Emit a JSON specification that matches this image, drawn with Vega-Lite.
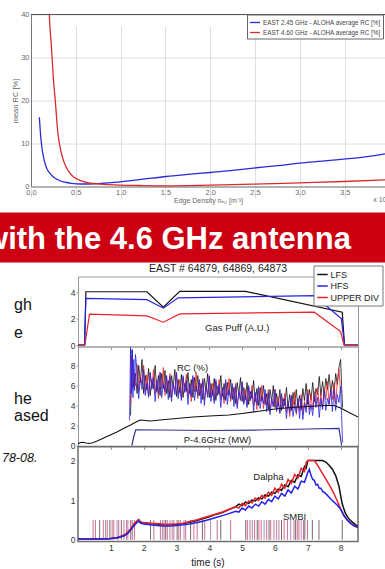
{
  "$schema": "https://vega.github.io/schema/vega-lite/v6.json",
  "background": "white",
  "padding": {"left": 0, "top": 10.5, "right": 0, "bottom": 0},
  "autosize": {"type": "pad"},
  "config": {
    "font": "Liberation Sans",
    "view": {"stroke": null},
    "axis": {"labelFont": "Liberation Sans", "titleFont": "Liberation Sans", "titleFontWeight": "normal", "grid": false},
    "legend": {"labelFont": "Liberation Sans"},
    "title": {"font": "Liberation Sans", "fontWeight": "normal"},
    "text": {"font": "Liberation Sans"}
  },
  "datasets": {
    "top": [
      {"n":0.093,"rc":16.1,"s":"EAST 2.45 GHz - ALOHA average RC [%]"},{"n":0.105,"rc":12.5,"s":"EAST 2.45 GHz - ALOHA average RC [%]"},{"n":0.12,"rc":9.3,"s":"EAST 2.45 GHz - ALOHA average RC [%]"},{"n":0.14,"rc":6.8,"s":"EAST 2.45 GHz - ALOHA average RC [%]"},{"n":0.156,"rc":5.4,"s":"EAST 2.45 GHz - ALOHA average RC [%]"},{"n":0.18,"rc":4.0,"s":"EAST 2.45 GHz - ALOHA average RC [%]"},{"n":0.21,"rc":3.1,"s":"EAST 2.45 GHz - ALOHA average RC [%]"},{"n":0.25,"rc":2.2,"s":"EAST 2.45 GHz - ALOHA average RC [%]"},{"n":0.3,"rc":1.56,"s":"EAST 2.45 GHz - ALOHA average RC [%]"},{"n":0.35,"rc":1.15,"s":"EAST 2.45 GHz - ALOHA average RC [%]"},{"n":0.4,"rc":0.93,"s":"EAST 2.45 GHz - ALOHA average RC [%]"},{"n":0.45,"rc":0.75,"s":"EAST 2.45 GHz - ALOHA average RC [%]"},{"n":0.51,"rc":0.63,"s":"EAST 2.45 GHz - ALOHA average RC [%]"},{"n":0.6,"rc":0.58,"s":"EAST 2.45 GHz - ALOHA average RC [%]"},{"n":0.7,"rc":0.63,"s":"EAST 2.45 GHz - ALOHA average RC [%]"},{"n":0.8,"rc":0.75,"s":"EAST 2.45 GHz - ALOHA average RC [%]"},{"n":0.9,"rc":0.9,"s":"EAST 2.45 GHz - ALOHA average RC [%]"},{"n":0.99,"rc":1.09,"s":"EAST 2.45 GHz - ALOHA average RC [%]"},{"n":1.25,"rc":1.7,"s":"EAST 2.45 GHz - ALOHA average RC [%]"},{"n":1.51,"rc":2.33,"s":"EAST 2.45 GHz - ALOHA average RC [%]"},{"n":1.75,"rc":2.8,"s":"EAST 2.45 GHz - ALOHA average RC [%]"},{"n":2.0,"rc":3.26,"s":"EAST 2.45 GHz - ALOHA average RC [%]"},{"n":2.25,"rc":3.75,"s":"EAST 2.45 GHz - ALOHA average RC [%]"},{"n":2.48,"rc":4.28,"s":"EAST 2.45 GHz - ALOHA average RC [%]"},{"n":2.75,"rc":4.85,"s":"EAST 2.45 GHz - ALOHA average RC [%]"},{"n":3.0,"rc":5.44,"s":"EAST 2.45 GHz - ALOHA average RC [%]"},{"n":3.25,"rc":5.9,"s":"EAST 2.45 GHz - ALOHA average RC [%]"},{"n":3.49,"rc":6.37,"s":"EAST 2.45 GHz - ALOHA average RC [%]"},{"n":3.75,"rc":6.95,"s":"EAST 2.45 GHz - ALOHA average RC [%]"},{"n":3.95,"rc":7.6,"s":"EAST 2.45 GHz - ALOHA average RC [%]"},
      {"n":0.19,"rc":48,"s":"EAST 4.60 GHz - ALOHA average RC [%]"},{"n":0.204,"rc":40,"s":"EAST 4.60 GHz - ALOHA average RC [%]"},{"n":0.23,"rc":31.8,"s":"EAST 4.60 GHz - ALOHA average RC [%]"},{"n":0.25,"rc":25,"s":"EAST 4.60 GHz - ALOHA average RC [%]"},{"n":0.27,"rc":20.2,"s":"EAST 4.60 GHz - ALOHA average RC [%]"},{"n":0.3,"rc":12.4,"s":"EAST 4.60 GHz - ALOHA average RC [%]"},{"n":0.33,"rc":8.6,"s":"EAST 4.60 GHz - ALOHA average RC [%]"},{"n":0.36,"rc":6.2,"s":"EAST 4.60 GHz - ALOHA average RC [%]"},{"n":0.39,"rc":4.6,"s":"EAST 4.60 GHz - ALOHA average RC [%]"},{"n":0.42,"rc":3.5,"s":"EAST 4.60 GHz - ALOHA average RC [%]"},{"n":0.46,"rc":2.5,"s":"EAST 4.60 GHz - ALOHA average RC [%]"},{"n":0.51,"rc":1.8,"s":"EAST 4.60 GHz - ALOHA average RC [%]"},{"n":0.56,"rc":1.3,"s":"EAST 4.60 GHz - ALOHA average RC [%]"},{"n":0.62,"rc":0.93,"s":"EAST 4.60 GHz - ALOHA average RC [%]"},{"n":0.7,"rc":0.7,"s":"EAST 4.60 GHz - ALOHA average RC [%]"},{"n":0.77,"rc":0.55,"s":"EAST 4.60 GHz - ALOHA average RC [%]"},{"n":0.88,"rc":0.42,"s":"EAST 4.60 GHz - ALOHA average RC [%]"},{"n":0.99,"rc":0.33,"s":"EAST 4.60 GHz - ALOHA average RC [%]"},{"n":1.25,"rc":0.22,"s":"EAST 4.60 GHz - ALOHA average RC [%]"},{"n":1.51,"rc":0.16,"s":"EAST 4.60 GHz - ALOHA average RC [%]"},{"n":1.75,"rc":0.22,"s":"EAST 4.60 GHz - ALOHA average RC [%]"},{"n":2.0,"rc":0.33,"s":"EAST 4.60 GHz - ALOHA average RC [%]"},{"n":2.48,"rc":0.55,"s":"EAST 4.60 GHz - ALOHA average RC [%]"},{"n":3.0,"rc":0.86,"s":"EAST 4.60 GHz - ALOHA average RC [%]"},{"n":3.49,"rc":1.16,"s":"EAST 4.60 GHz - ALOHA average RC [%]"},{"n":3.95,"rc":1.56,"s":"EAST 4.60 GHz - ALOHA average RC [%]"}
    ],
    "gas": [
      {"t":0,"v":0,"s":"LFS"},{"t":0.2,"v":0,"s":"LFS"},{"t":0.24,"v":4.02,"s":"LFS"},{"t":2.1,"v":4.02,"s":"LFS"},{"t":2.6,"v":2.85,"s":"LFS"},{"t":3.1,"v":4.05,"s":"LFS"},{"t":5.1,"v":4.05,"s":"LFS"},{"t":8.05,"v":2.48,"s":"LFS"},{"t":8.12,"v":0,"s":"LFS"},{"t":8.53,"v":0,"s":"LFS"},
      {"t":0,"v":0,"s":"HFS"},{"t":0.2,"v":0,"s":"HFS"},{"t":0.24,"v":3.52,"s":"HFS"},{"t":2.1,"v":3.42,"s":"HFS"},{"t":2.6,"v":2.78,"s":"HFS"},{"t":3.05,"v":3.56,"s":"HFS"},{"t":7.2,"v":3.72,"s":"HFS"},{"t":8.02,"v":2.0,"s":"HFS"},{"t":8.12,"v":0,"s":"HFS"},{"t":8.53,"v":0,"s":"HFS"},
      {"t":0,"v":0,"s":"UPPER DIV"},{"t":0.21,"v":0,"s":"UPPER DIV"},{"t":0.35,"v":2.33,"s":"UPPER DIV"},{"t":2.1,"v":2.2,"s":"UPPER DIV"},{"t":2.6,"v":1.72,"s":"UPPER DIV"},{"t":3.1,"v":2.35,"s":"UPPER DIV"},{"t":7.2,"v":2.48,"s":"UPPER DIV"},{"t":8.0,"v":1.02,"s":"UPPER DIV"},{"t":8.1,"v":0,"s":"UPPER DIV"},{"t":8.53,"v":0,"s":"UPPER DIV"}
    ],
    "rc": [
      {"t":1.6,"v":3.0,"s":"LFS"},{"t":1.65,"v":9.6,"s":"LFS"},{"t":1.7,"v":5.8,"s":"LFS"},{"t":1.75,"v":7.2,"s":"LFS"},{"t":1.8,"v":5.2,"s":"LFS"},{"t":1.85,"v":8.0,"s":"LFS"},{"t":1.9,"v":6.3,"s":"LFS"},{"t":1.95,"v":8.6,"s":"LFS"},{"t":2.0,"v":5.2,"s":"LFS"},{"t":2.05,"v":7.0,"s":"LFS"},{"t":2.1,"v":5.6,"s":"LFS"},{"t":2.15,"v":7.7,"s":"LFS"},{"t":2.2,"v":5.0,"s":"LFS"},{"t":2.25,"v":6.6,"s":"LFS"},{"t":2.3,"v":5.7,"s":"LFS"},{"t":2.35,"v":8.0,"s":"LFS"},{"t":2.4,"v":5.4,"s":"LFS"},{"t":2.45,"v":7.0,"s":"LFS"},{"t":2.5,"v":5.0,"s":"LFS"},{"t":2.55,"v":7.2,"s":"LFS"},{"t":2.6,"v":5.7,"s":"LFS"},{"t":2.65,"v":7.5,"s":"LFS"},{"t":2.7,"v":5.2,"s":"LFS"},{"t":2.75,"v":6.5,"s":"LFS"},{"t":2.8,"v":4.8,"s":"LFS"},{"t":2.85,"v":7.0,"s":"LFS"},{"t":2.9,"v":5.8,"s":"LFS"},{"t":2.95,"v":7.6,"s":"LFS"},{"t":3.0,"v":4.9,"s":"LFS"},{"t":3.05,"v":6.6,"s":"LFS"},{"t":3.1,"v":5.3,"s":"LFS"},{"t":3.15,"v":7.1,"s":"LFS"},{"t":3.2,"v":4.8,"s":"LFS"},{"t":3.25,"v":6.2,"s":"LFS"},{"t":3.3,"v":5.4,"s":"LFS"},{"t":3.35,"v":7.3,"s":"LFS"},{"t":3.4,"v":5.2,"s":"LFS"},{"t":3.45,"v":6.6,"s":"LFS"},{"t":3.5,"v":4.8,"s":"LFS"},{"t":3.55,"v":6.8,"s":"LFS"},{"t":3.6,"v":5.4,"s":"LFS"},{"t":3.65,"v":7.0,"s":"LFS"},{"t":3.7,"v":5.0,"s":"LFS"},{"t":3.75,"v":6.2,"s":"LFS"},{"t":3.8,"v":4.6,"s":"LFS"},{"t":3.85,"v":6.7,"s":"LFS"},{"t":3.9,"v":5.5,"s":"LFS"},{"t":3.95,"v":7.2,"s":"LFS"},{"t":4.0,"v":4.8,"s":"LFS"},{"t":4.05,"v":6.2,"s":"LFS"},{"t":4.1,"v":5.0,"s":"LFS"},{"t":4.15,"v":6.7,"s":"LFS"},{"t":4.2,"v":4.5,"s":"LFS"},{"t":4.25,"v":5.9,"s":"LFS"},{"t":4.3,"v":5.1,"s":"LFS"},{"t":4.35,"v":7.0,"s":"LFS"},{"t":4.4,"v":4.9,"s":"LFS"},{"t":4.45,"v":6.2,"s":"LFS"},{"t":4.5,"v":4.5,"s":"LFS"},{"t":4.55,"v":6.3,"s":"LFS"},{"t":4.6,"v":5.1,"s":"LFS"},{"t":4.65,"v":6.6,"s":"LFS"},{"t":4.7,"v":4.6,"s":"LFS"},{"t":4.75,"v":5.8,"s":"LFS"},{"t":4.8,"v":4.2,"s":"LFS"},{"t":4.85,"v":6.3,"s":"LFS"},{"t":4.9,"v":5.1,"s":"LFS"},{"t":4.95,"v":6.8,"s":"LFS"},{"t":5.0,"v":4.4,"s":"LFS"},{"t":5.05,"v":5.8,"s":"LFS"},{"t":5.1,"v":4.6,"s":"LFS"},{"t":5.15,"v":6.3,"s":"LFS"},{"t":5.2,"v":4.1,"s":"LFS"},{"t":5.25,"v":5.4,"s":"LFS"},{"t":5.3,"v":4.7,"s":"LFS"},{"t":5.35,"v":6.5,"s":"LFS"},{"t":5.4,"v":4.4,"s":"LFS"},{"t":5.45,"v":5.7,"s":"LFS"},{"t":5.5,"v":4.0,"s":"LFS"},{"t":5.55,"v":5.8,"s":"LFS"},{"t":5.6,"v":4.5,"s":"LFS"},{"t":5.65,"v":6.0,"s":"LFS"},{"t":5.7,"v":4.1,"s":"LFS"},{"t":5.75,"v":5.2,"s":"LFS"},{"t":5.8,"v":3.6,"s":"LFS"},{"t":5.85,"v":5.6,"s":"LFS"},{"t":5.9,"v":4.4,"s":"LFS"},{"t":5.95,"v":6.0,"s":"LFS"},{"t":6.0,"v":3.8,"s":"LFS"},{"t":6.05,"v":5.2,"s":"LFS"},{"t":6.1,"v":4.0,"s":"LFS"},{"t":6.15,"v":5.6,"s":"LFS"},{"t":6.2,"v":3.5,"s":"LFS"},{"t":6.25,"v":4.7,"s":"LFS"},{"t":6.3,"v":4.0,"s":"LFS"},{"t":6.35,"v":5.8,"s":"LFS"},{"t":6.4,"v":3.8,"s":"LFS"},{"t":6.45,"v":5.1,"s":"LFS"},{"t":6.5,"v":3.5,"s":"LFS"},{"t":6.55,"v":5.3,"s":"LFS"},{"t":6.6,"v":4.1,"s":"LFS"},{"t":6.65,"v":5.6,"s":"LFS"},{"t":6.7,"v":3.8,"s":"LFS"},{"t":6.75,"v":5.0,"s":"LFS"},{"t":6.8,"v":3.6,"s":"LFS"},{"t":6.85,"v":5.7,"s":"LFS"},{"t":6.9,"v":4.5,"s":"LFS"},{"t":6.95,"v":6.2,"s":"LFS"},{"t":7.0,"v":4.1,"s":"LFS"},{"t":7.05,"v":5.6,"s":"LFS"},{"t":7.1,"v":4.6,"s":"LFS"},{"t":7.15,"v":6.3,"s":"LFS"},{"t":7.2,"v":4.4,"s":"LFS"},{"t":7.25,"v":5.7,"s":"LFS"},{"t":7.3,"v":5.1,"s":"LFS"},{"t":7.35,"v":6.9,"s":"LFS"},{"t":7.4,"v":5.0,"s":"LFS"},{"t":7.45,"v":6.4,"s":"LFS"},{"t":7.5,"v":5.0,"s":"LFS"},{"t":7.55,"v":6.7,"s":"LFS"},{"t":7.6,"v":5.6,"s":"LFS"},{"t":7.65,"v":7.1,"s":"LFS"},{"t":7.7,"v":5.3,"s":"LFS"},{"t":7.75,"v":6.5,"s":"LFS"},{"t":7.8,"v":5.2,"s":"LFS"},{"t":7.85,"v":7.2,"s":"LFS"},{"t":7.9,"v":6.1,"s":"LFS"},{"t":7.95,"v":7.8,"s":"LFS"},{"t":8.0,"v":8.6,"s":"LFS"},{"t":8.03,"v":6.0,"s":"LFS"},{"t":8.06,"v":3.8,"s":"LFS"},
      {"t":1.6,"v":4.2,"s":"UPPER DIV"},{"t":1.625,"v":9.0,"s":"UPPER DIV"},{"t":1.65,"v":5.6,"s":"UPPER DIV"},{"t":1.7,"v":7.4,"s":"UPPER DIV"},{"t":1.75,"v":6.0,"s":"UPPER DIV"},{"t":1.8,"v":8.1,"s":"UPPER DIV"},{"t":1.85,"v":5.4,"s":"UPPER DIV"},{"t":1.9,"v":7.0,"s":"UPPER DIV"},{"t":1.95,"v":6.1,"s":"UPPER DIV"},{"t":2.0,"v":8.0,"s":"UPPER DIV"},{"t":2.05,"v":5.4,"s":"UPPER DIV"},{"t":2.1,"v":7.1,"s":"UPPER DIV"},{"t":2.15,"v":5.0,"s":"UPPER DIV"},{"t":2.2,"v":7.3,"s":"UPPER DIV"},{"t":2.25,"v":5.8,"s":"UPPER DIV"},{"t":2.3,"v":7.6,"s":"UPPER DIV"},{"t":2.35,"v":5.2,"s":"UPPER DIV"},{"t":2.4,"v":6.6,"s":"UPPER DIV"},{"t":2.45,"v":4.7,"s":"UPPER DIV"},{"t":2.5,"v":7.3,"s":"UPPER DIV"},{"t":2.55,"v":5.7,"s":"UPPER DIV"},{"t":2.6,"v":7.8,"s":"UPPER DIV"},{"t":2.65,"v":5.0,"s":"UPPER DIV"},{"t":2.7,"v":6.7,"s":"UPPER DIV"},{"t":2.75,"v":5.3,"s":"UPPER DIV"},{"t":2.8,"v":7.2,"s":"UPPER DIV"},{"t":2.85,"v":4.8,"s":"UPPER DIV"},{"t":2.9,"v":6.2,"s":"UPPER DIV"},{"t":2.95,"v":5.4,"s":"UPPER DIV"},{"t":3.0,"v":7.3,"s":"UPPER DIV"},{"t":3.05,"v":5.1,"s":"UPPER DIV"},{"t":3.1,"v":6.6,"s":"UPPER DIV"},{"t":3.15,"v":4.8,"s":"UPPER DIV"},{"t":3.2,"v":6.8,"s":"UPPER DIV"},{"t":3.25,"v":5.4,"s":"UPPER DIV"},{"t":3.3,"v":7.1,"s":"UPPER DIV"},{"t":3.35,"v":4.9,"s":"UPPER DIV"},{"t":3.4,"v":6.2,"s":"UPPER DIV"},{"t":3.45,"v":4.4,"s":"UPPER DIV"},{"t":3.5,"v":6.8,"s":"UPPER DIV"},{"t":3.55,"v":5.4,"s":"UPPER DIV"},{"t":3.6,"v":7.3,"s":"UPPER DIV"},{"t":3.65,"v":4.7,"s":"UPPER DIV"},{"t":3.7,"v":6.3,"s":"UPPER DIV"},{"t":3.75,"v":5.1,"s":"UPPER DIV"},{"t":3.8,"v":6.7,"s":"UPPER DIV"},{"t":3.85,"v":4.5,"s":"UPPER DIV"},{"t":3.9,"v":5.9,"s":"UPPER DIV"},{"t":3.95,"v":5.1,"s":"UPPER DIV"},{"t":4.0,"v":7.0,"s":"UPPER DIV"},{"t":4.05,"v":4.8,"s":"UPPER DIV"},{"t":4.1,"v":6.2,"s":"UPPER DIV"},{"t":4.15,"v":4.5,"s":"UPPER DIV"},{"t":4.2,"v":6.4,"s":"UPPER DIV"},{"t":4.25,"v":5.1,"s":"UPPER DIV"},{"t":4.3,"v":6.6,"s":"UPPER DIV"},{"t":4.35,"v":4.6,"s":"UPPER DIV"},{"t":4.4,"v":5.7,"s":"UPPER DIV"},{"t":4.45,"v":4.2,"s":"UPPER DIV"},{"t":4.5,"v":6.3,"s":"UPPER DIV"},{"t":4.55,"v":5.0,"s":"UPPER DIV"},{"t":4.6,"v":6.7,"s":"UPPER DIV"},{"t":4.65,"v":4.4,"s":"UPPER DIV"},{"t":4.7,"v":5.8,"s":"UPPER DIV"},{"t":4.75,"v":4.7,"s":"UPPER DIV"},{"t":4.8,"v":6.2,"s":"UPPER DIV"},{"t":4.85,"v":4.0,"s":"UPPER DIV"},{"t":4.9,"v":5.3,"s":"UPPER DIV"},{"t":4.95,"v":4.6,"s":"UPPER DIV"},{"t":5.0,"v":6.3,"s":"UPPER DIV"},{"t":5.05,"v":4.3,"s":"UPPER DIV"},{"t":5.1,"v":5.6,"s":"UPPER DIV"},{"t":5.15,"v":4.0,"s":"UPPER DIV"},{"t":5.2,"v":5.8,"s":"UPPER DIV"},{"t":5.25,"v":4.5,"s":"UPPER DIV"},{"t":5.3,"v":6.0,"s":"UPPER DIV"},{"t":5.35,"v":4.0,"s":"UPPER DIV"},{"t":5.4,"v":5.1,"s":"UPPER DIV"},{"t":5.45,"v":3.6,"s":"UPPER DIV"},{"t":5.5,"v":5.6,"s":"UPPER DIV"},{"t":5.55,"v":4.4,"s":"UPPER DIV"},{"t":5.6,"v":6.0,"s":"UPPER DIV"},{"t":5.65,"v":3.7,"s":"UPPER DIV"},{"t":5.7,"v":5.1,"s":"UPPER DIV"},{"t":5.75,"v":4.0,"s":"UPPER DIV"},{"t":5.8,"v":5.6,"s":"UPPER DIV"},{"t":5.85,"v":3.4,"s":"UPPER DIV"},{"t":5.9,"v":4.6,"s":"UPPER DIV"},{"t":5.95,"v":3.9,"s":"UPPER DIV"},{"t":6.0,"v":5.6,"s":"UPPER DIV"},{"t":6.05,"v":3.6,"s":"UPPER DIV"},{"t":6.1,"v":4.9,"s":"UPPER DIV"},{"t":6.15,"v":3.3,"s":"UPPER DIV"},{"t":6.2,"v":5.0,"s":"UPPER DIV"},{"t":6.25,"v":3.7,"s":"UPPER DIV"},{"t":6.3,"v":5.2,"s":"UPPER DIV"},{"t":6.35,"v":3.3,"s":"UPPER DIV"},{"t":6.4,"v":4.4,"s":"UPPER DIV"},{"t":6.45,"v":2.9,"s":"UPPER DIV"},{"t":6.5,"v":4.9,"s":"UPPER DIV"},{"t":6.55,"v":3.7,"s":"UPPER DIV"},{"t":6.6,"v":5.4,"s":"UPPER DIV"},{"t":6.65,"v":3.1,"s":"UPPER DIV"},{"t":6.7,"v":4.5,"s":"UPPER DIV"},{"t":6.75,"v":3.4,"s":"UPPER DIV"},{"t":6.8,"v":5.1,"s":"UPPER DIV"},{"t":6.85,"v":3.1,"s":"UPPER DIV"},{"t":6.9,"v":4.4,"s":"UPPER DIV"},{"t":6.95,"v":3.7,"s":"UPPER DIV"},{"t":7.0,"v":5.6,"s":"UPPER DIV"},{"t":7.05,"v":3.6,"s":"UPPER DIV"},{"t":7.1,"v":5.1,"s":"UPPER DIV"},{"t":7.15,"v":3.6,"s":"UPPER DIV"},{"t":7.2,"v":5.4,"s":"UPPER DIV"},{"t":7.25,"v":4.2,"s":"UPPER DIV"},{"t":7.3,"v":5.8,"s":"UPPER DIV"},{"t":7.35,"v":3.9,"s":"UPPER DIV"},{"t":7.4,"v":5.1,"s":"UPPER DIV"},{"t":7.45,"v":3.7,"s":"UPPER DIV"},{"t":7.5,"v":5.8,"s":"UPPER DIV"},{"t":7.55,"v":4.6,"s":"UPPER DIV"},{"t":7.6,"v":6.4,"s":"UPPER DIV"},{"t":7.65,"v":4.1,"s":"UPPER DIV"},{"t":7.7,"v":5.6,"s":"UPPER DIV"},{"t":7.75,"v":4.6,"s":"UPPER DIV"},{"t":7.8,"v":6.3,"s":"UPPER DIV"},{"t":7.85,"v":4.2,"s":"UPPER DIV"},{"t":7.9,"v":6.4,"s":"UPPER DIV"},{"t":7.95,"v":7.6,"s":"UPPER DIV"},{"t":8.0,"v":5.2,"s":"UPPER DIV"},
      {"t":1.57,"v":2.5,"s":"HFS"},{"t":1.6,"v":9.8,"s":"HFS"},{"t":1.625,"v":5.2,"s":"HFS"},{"t":1.65,"v":9.5,"s":"HFS"},{"t":1.675,"v":4.8,"s":"HFS"},{"t":1.7,"v":8.6,"s":"HFS"},{"t":1.725,"v":5.5,"s":"HFS"},{"t":1.75,"v":9.1,"s":"HFS"},{"t":1.8,"v":7.5,"s":"HFS"},{"t":1.85,"v":4.7,"s":"HFS"},{"t":1.9,"v":6.8,"s":"HFS"},{"t":1.95,"v":5.6,"s":"HFS"},{"t":2.0,"v":7.6,"s":"HFS"},{"t":2.05,"v":5.0,"s":"HFS"},{"t":2.1,"v":6.2,"s":"HFS"},{"t":2.15,"v":4.8,"s":"HFS"},{"t":2.2,"v":7.3,"s":"HFS"},{"t":2.25,"v":5.6,"s":"HFS"},{"t":2.3,"v":6.8,"s":"HFS"},{"t":2.35,"v":4.4,"s":"HFS"},{"t":2.4,"v":6.5,"s":"HFS"},{"t":2.45,"v":5.2,"s":"HFS"},{"t":2.5,"v":7.3,"s":"HFS"},{"t":2.55,"v":4.8,"s":"HFS"},{"t":2.6,"v":6.2,"s":"HFS"},{"t":2.65,"v":5.4,"s":"HFS"},{"t":2.7,"v":7.0,"s":"HFS"},{"t":2.75,"v":4.6,"s":"HFS"},{"t":2.8,"v":6.9,"s":"HFS"},{"t":2.85,"v":4.4,"s":"HFS"},{"t":2.9,"v":6.2,"s":"HFS"},{"t":2.95,"v":5.1,"s":"HFS"},{"t":3.0,"v":7.3,"s":"HFS"},{"t":3.05,"v":4.7,"s":"HFS"},{"t":3.1,"v":5.9,"s":"HFS"},{"t":3.15,"v":4.5,"s":"HFS"},{"t":3.2,"v":7.0,"s":"HFS"},{"t":3.25,"v":5.3,"s":"HFS"},{"t":3.3,"v":6.5,"s":"HFS"},{"t":3.35,"v":4.1,"s":"HFS"},{"t":3.4,"v":6.2,"s":"HFS"},{"t":3.45,"v":4.9,"s":"HFS"},{"t":3.5,"v":7.0,"s":"HFS"},{"t":3.55,"v":4.5,"s":"HFS"},{"t":3.6,"v":5.9,"s":"HFS"},{"t":3.65,"v":5.0,"s":"HFS"},{"t":3.7,"v":6.6,"s":"HFS"},{"t":3.75,"v":4.2,"s":"HFS"},{"t":3.8,"v":6.5,"s":"HFS"},{"t":3.85,"v":4.0,"s":"HFS"},{"t":3.9,"v":5.9,"s":"HFS"},{"t":3.95,"v":4.8,"s":"HFS"},{"t":4.0,"v":6.9,"s":"HFS"},{"t":4.05,"v":4.4,"s":"HFS"},{"t":4.1,"v":5.6,"s":"HFS"},{"t":4.15,"v":4.2,"s":"HFS"},{"t":4.2,"v":6.6,"s":"HFS"},{"t":4.25,"v":5.0,"s":"HFS"},{"t":4.3,"v":6.1,"s":"HFS"},{"t":4.35,"v":3.8,"s":"HFS"},{"t":4.4,"v":5.8,"s":"HFS"},{"t":4.45,"v":4.6,"s":"HFS"},{"t":4.5,"v":6.6,"s":"HFS"},{"t":4.55,"v":4.1,"s":"HFS"},{"t":4.6,"v":5.5,"s":"HFS"},{"t":4.65,"v":4.7,"s":"HFS"},{"t":4.7,"v":6.2,"s":"HFS"},{"t":4.75,"v":3.9,"s":"HFS"},{"t":4.8,"v":6.0,"s":"HFS"},{"t":4.85,"v":3.7,"s":"HFS"},{"t":4.9,"v":5.4,"s":"HFS"},{"t":4.95,"v":4.5,"s":"HFS"},{"t":5.0,"v":6.4,"s":"HFS"},{"t":5.05,"v":4.1,"s":"HFS"},{"t":5.1,"v":5.1,"s":"HFS"},{"t":5.15,"v":3.8,"s":"HFS"},{"t":5.2,"v":6.0,"s":"HFS"},{"t":5.25,"v":4.5,"s":"HFS"},{"t":5.3,"v":5.5,"s":"HFS"},{"t":5.35,"v":3.4,"s":"HFS"},{"t":5.4,"v":5.3,"s":"HFS"},{"t":5.45,"v":4.1,"s":"HFS"},{"t":5.5,"v":5.9,"s":"HFS"},{"t":5.55,"v":3.7,"s":"HFS"},{"t":5.6,"v":4.9,"s":"HFS"},{"t":5.65,"v":4.2,"s":"HFS"},{"t":5.7,"v":5.6,"s":"HFS"},{"t":5.75,"v":3.4,"s":"HFS"},{"t":5.8,"v":5.3,"s":"HFS"},{"t":5.85,"v":3.1,"s":"HFS"},{"t":5.9,"v":4.7,"s":"HFS"},{"t":5.95,"v":3.9,"s":"HFS"},{"t":6.0,"v":5.6,"s":"HFS"},{"t":6.05,"v":3.4,"s":"HFS"},{"t":6.1,"v":4.4,"s":"HFS"},{"t":6.15,"v":3.2,"s":"HFS"},{"t":6.2,"v":5.2,"s":"HFS"},{"t":6.25,"v":3.8,"s":"HFS"},{"t":6.3,"v":4.7,"s":"HFS"},{"t":6.35,"v":2.7,"s":"HFS"},{"t":6.4,"v":4.4,"s":"HFS"},{"t":6.45,"v":3.3,"s":"HFS"},{"t":6.5,"v":5.0,"s":"HFS"},{"t":6.55,"v":2.9,"s":"HFS"},{"t":6.6,"v":4.0,"s":"HFS"},{"t":6.65,"v":3.3,"s":"HFS"},{"t":6.7,"v":4.7,"s":"HFS"},{"t":6.75,"v":2.7,"s":"HFS"},{"t":6.8,"v":4.7,"s":"HFS"},{"t":6.85,"v":2.6,"s":"HFS"},{"t":6.9,"v":4.2,"s":"HFS"},{"t":6.95,"v":3.3,"s":"HFS"},{"t":7.0,"v":5.2,"s":"HFS"},{"t":7.05,"v":3.1,"s":"HFS"},{"t":7.1,"v":4.1,"s":"HFS"},{"t":7.15,"v":3.0,"s":"HFS"},{"t":7.2,"v":5.1,"s":"HFS"},{"t":7.25,"v":3.8,"s":"HFS"},{"t":7.3,"v":4.8,"s":"HFS"},{"t":7.35,"v":2.8,"s":"HFS"},{"t":7.4,"v":4.7,"s":"HFS"},{"t":7.45,"v":3.6,"s":"HFS"},{"t":7.5,"v":5.5,"s":"HFS"},{"t":7.55,"v":3.5,"s":"HFS"},{"t":7.6,"v":4.7,"s":"HFS"},{"t":7.65,"v":4.1,"s":"HFS"},{"t":7.7,"v":5.6,"s":"HFS"},{"t":7.75,"v":3.4,"s":"HFS"},{"t":7.8,"v":5.5,"s":"HFS"},{"t":7.85,"v":3.5,"s":"HFS"},{"t":7.9,"v":5.1,"s":"HFS"},{"t":7.95,"v":4.3,"s":"HFS"},{"t":8.0,"v":5.9,"s":"HFS"},{"t":8.03,"v":3.0,"s":"HFS"},{"t":8.06,"v":0.3,"s":"HFS"}
    ],
    "dens": [
      {"t":0,"v":0.18},{"t":0.08,"v":0.3},{"t":0.15,"v":0.33},{"t":0.25,"v":0.25},{"t":0.35,"v":0.2},{"t":0.45,"v":0.28},{"t":0.6,"v":0.48},{"t":0.8,"v":0.78},{"t":1.0,"v":1.08},{"t":1.2,"v":1.38},{"t":1.4,"v":1.72},{"t":1.6,"v":2.05},{"t":1.8,"v":2.4},{"t":1.9,"v":2.55},{"t":2.05,"v":2.5},{"t":2.2,"v":2.45},{"t":2.5,"v":2.55},{"t":3.0,"v":2.7},{"t":3.5,"v":2.85},{"t":4.0,"v":2.95},{"t":4.6,"v":3.05},{"t":5.0,"v":3.2},{"t":5.5,"v":3.42},{"t":6.0,"v":3.65},{"t":6.5,"v":3.8},{"t":7.0,"v":3.9},{"t":7.5,"v":4.0},{"t":7.8,"v":4.0},{"t":8.0,"v":3.75},{"t":8.2,"v":3.4},{"t":8.53,"v":2.85}
    ],
    "pwr": [
      {"t":1.64,"v":0},{"t":1.7,"v":0.9},{"t":1.76,"v":1.57},{"t":2.5,"v":1.55},{"t":4.0,"v":1.5},{"t":5.5,"v":1.55},{"t":7.0,"v":1.65},{"t":7.95,"v":1.72},{"t":7.99,"v":0.9},{"t":8.03,"v":0}
    ],
    "dal": [
      {"t":0,"v":0.02,"s":"LFS"},{"t":0.6,"v":0.02,"s":"LFS"},{"t":1.0,"v":0.03,"s":"LFS"},{"t":1.2,"v":0.05,"s":"LFS"},{"t":1.4,"v":0.1,"s":"LFS"},{"t":1.5,"v":0.16,"s":"LFS"},{"t":1.6,"v":0.25,"s":"LFS"},{"t":1.7,"v":0.37,"s":"LFS"},{"t":1.8,"v":0.47,"s":"LFS"},{"t":1.85,"v":0.51,"s":"LFS"},{"t":1.9,"v":0.45,"s":"LFS"},{"t":2.0,"v":0.43,"s":"LFS"},{"t":2.2,"v":0.41,"s":"LFS"},{"t":2.4,"v":0.4,"s":"LFS"},{"t":2.6,"v":0.38,"s":"LFS"},{"t":2.8,"v":0.38,"s":"LFS"},{"t":3.0,"v":0.39,"s":"LFS"},{"t":3.2,"v":0.41,"s":"LFS"},{"t":3.4,"v":0.44,"s":"LFS"},{"t":3.6,"v":0.48,"s":"LFS"},{"t":3.8,"v":0.53,"s":"LFS"},{"t":4.0,"v":0.58,"s":"LFS"},{"t":4.2,"v":0.64,"s":"LFS"},{"t":4.4,"v":0.69,"s":"LFS"},{"t":4.6,"v":0.76,"s":"LFS"},{"t":4.8,"v":0.83,"s":"LFS"},{"t":4.9,"v":0.9,"s":"LFS"},{"t":5.0,"v":0.86,"s":"LFS"},{"t":5.1,"v":0.95,"s":"LFS"},{"t":5.2,"v":0.92,"s":"LFS"},{"t":5.3,"v":1.0,"s":"LFS"},{"t":5.4,"v":0.98,"s":"LFS"},{"t":5.5,"v":1.06,"s":"LFS"},{"t":5.6,"v":1.03,"s":"LFS"},{"t":5.7,"v":1.13,"s":"LFS"},{"t":5.8,"v":1.1,"s":"LFS"},{"t":5.9,"v":1.2,"s":"LFS"},{"t":6.0,"v":1.17,"s":"LFS"},{"t":6.1,"v":1.28,"s":"LFS"},{"t":6.2,"v":1.25,"s":"LFS"},{"t":6.3,"v":1.38,"s":"LFS"},{"t":6.4,"v":1.34,"s":"LFS"},{"t":6.5,"v":1.5,"s":"LFS"},{"t":6.6,"v":1.45,"s":"LFS"},{"t":6.7,"v":1.64,"s":"LFS"},{"t":6.8,"v":1.6,"s":"LFS"},{"t":6.9,"v":1.85,"s":"LFS"},{"t":6.95,"v":1.8,"s":"LFS"},{"t":7.0,"v":2.0,"s":"LFS"},{"t":7.45,"v":2.0,"s":"LFS"},{"t":7.55,"v":1.96,"s":"LFS"},{"t":7.65,"v":1.88,"s":"LFS"},{"t":7.75,"v":1.78,"s":"LFS"},{"t":7.85,"v":1.62,"s":"LFS"},{"t":7.95,"v":1.35,"s":"LFS"},{"t":8.05,"v":0.9,"s":"LFS"},{"t":8.15,"v":0.66,"s":"LFS"},{"t":8.25,"v":0.53,"s":"LFS"},{"t":8.35,"v":0.45,"s":"LFS"},{"t":8.53,"v":0.33,"s":"LFS"},
      {"t":0,"v":0.02,"s":"UPPER DIV"},{"t":0.6,"v":0.02,"s":"UPPER DIV"},{"t":1.0,"v":0.03,"s":"UPPER DIV"},{"t":1.2,"v":0.06,"s":"UPPER DIV"},{"t":1.4,"v":0.12,"s":"UPPER DIV"},{"t":1.5,"v":0.18,"s":"UPPER DIV"},{"t":1.6,"v":0.28,"s":"UPPER DIV"},{"t":1.7,"v":0.4,"s":"UPPER DIV"},{"t":1.8,"v":0.48,"s":"UPPER DIV"},{"t":1.85,"v":0.5,"s":"UPPER DIV"},{"t":1.9,"v":0.44,"s":"UPPER DIV"},{"t":2.0,"v":0.43,"s":"UPPER DIV"},{"t":2.2,"v":0.42,"s":"UPPER DIV"},{"t":2.4,"v":0.41,"s":"UPPER DIV"},{"t":2.6,"v":0.39,"s":"UPPER DIV"},{"t":2.8,"v":0.39,"s":"UPPER DIV"},{"t":3.0,"v":0.4,"s":"UPPER DIV"},{"t":3.2,"v":0.42,"s":"UPPER DIV"},{"t":3.4,"v":0.46,"s":"UPPER DIV"},{"t":3.6,"v":0.5,"s":"UPPER DIV"},{"t":3.8,"v":0.55,"s":"UPPER DIV"},{"t":4.0,"v":0.6,"s":"UPPER DIV"},{"t":4.2,"v":0.65,"s":"UPPER DIV"},{"t":4.4,"v":0.7,"s":"UPPER DIV"},{"t":4.6,"v":0.77,"s":"UPPER DIV"},{"t":4.8,"v":0.84,"s":"UPPER DIV"},{"t":4.9,"v":0.8,"s":"UPPER DIV"},{"t":5.0,"v":0.92,"s":"UPPER DIV"},{"t":5.1,"v":0.86,"s":"UPPER DIV"},{"t":5.2,"v":0.98,"s":"UPPER DIV"},{"t":5.3,"v":0.93,"s":"UPPER DIV"},{"t":5.4,"v":1.05,"s":"UPPER DIV"},{"t":5.5,"v":0.99,"s":"UPPER DIV"},{"t":5.6,"v":1.12,"s":"UPPER DIV"},{"t":5.7,"v":1.05,"s":"UPPER DIV"},{"t":5.8,"v":1.2,"s":"UPPER DIV"},{"t":5.9,"v":1.12,"s":"UPPER DIV"},{"t":6.0,"v":1.3,"s":"UPPER DIV"},{"t":6.1,"v":1.2,"s":"UPPER DIV"},{"t":6.2,"v":1.4,"s":"UPPER DIV"},{"t":6.3,"v":1.3,"s":"UPPER DIV"},{"t":6.4,"v":1.52,"s":"UPPER DIV"},{"t":6.5,"v":1.42,"s":"UPPER DIV"},{"t":6.6,"v":1.65,"s":"UPPER DIV"},{"t":6.7,"v":1.55,"s":"UPPER DIV"},{"t":6.8,"v":1.8,"s":"UPPER DIV"},{"t":6.9,"v":1.72,"s":"UPPER DIV"},{"t":6.95,"v":1.95,"s":"UPPER DIV"},{"t":7.0,"v":2.0,"s":"UPPER DIV"},{"t":7.2,"v":2.0,"s":"UPPER DIV"},{"t":7.3,"v":1.88,"s":"UPPER DIV"},{"t":7.4,"v":1.74,"s":"UPPER DIV"},{"t":7.5,"v":1.6,"s":"UPPER DIV"},{"t":7.6,"v":1.46,"s":"UPPER DIV"},{"t":7.7,"v":1.32,"s":"UPPER DIV"},{"t":7.8,"v":1.16,"s":"UPPER DIV"},{"t":7.9,"v":0.98,"s":"UPPER DIV"},{"t":8.0,"v":0.78,"s":"UPPER DIV"},{"t":8.1,"v":0.6,"s":"UPPER DIV"},{"t":8.2,"v":0.5,"s":"UPPER DIV"},{"t":8.3,"v":0.42,"s":"UPPER DIV"},{"t":8.4,"v":0.36,"s":"UPPER DIV"},{"t":8.53,"v":0.3,"s":"UPPER DIV"},
      {"t":0,"v":0.02,"s":"HFS"},{"t":0.6,"v":0.02,"s":"HFS"},{"t":1.0,"v":0.03,"s":"HFS"},{"t":1.2,"v":0.05,"s":"HFS"},{"t":1.4,"v":0.1,"s":"HFS"},{"t":1.5,"v":0.15,"s":"HFS"},{"t":1.6,"v":0.24,"s":"HFS"},{"t":1.7,"v":0.35,"s":"HFS"},{"t":1.8,"v":0.44,"s":"HFS"},{"t":1.85,"v":0.47,"s":"HFS"},{"t":1.9,"v":0.42,"s":"HFS"},{"t":2.0,"v":0.4,"s":"HFS"},{"t":2.2,"v":0.38,"s":"HFS"},{"t":2.4,"v":0.36,"s":"HFS"},{"t":2.6,"v":0.35,"s":"HFS"},{"t":2.8,"v":0.35,"s":"HFS"},{"t":3.0,"v":0.36,"s":"HFS"},{"t":3.2,"v":0.38,"s":"HFS"},{"t":3.4,"v":0.4,"s":"HFS"},{"t":3.6,"v":0.43,"s":"HFS"},{"t":3.8,"v":0.47,"s":"HFS"},{"t":4.0,"v":0.51,"s":"HFS"},{"t":4.2,"v":0.56,"s":"HFS"},{"t":4.4,"v":0.61,"s":"HFS"},{"t":4.6,"v":0.66,"s":"HFS"},{"t":4.8,"v":0.72,"s":"HFS"},{"t":4.9,"v":0.7,"s":"HFS"},{"t":5.0,"v":0.8,"s":"HFS"},{"t":5.1,"v":0.75,"s":"HFS"},{"t":5.2,"v":0.85,"s":"HFS"},{"t":5.3,"v":0.8,"s":"HFS"},{"t":5.4,"v":0.9,"s":"HFS"},{"t":5.5,"v":0.85,"s":"HFS"},{"t":5.6,"v":0.96,"s":"HFS"},{"t":5.7,"v":0.9,"s":"HFS"},{"t":5.8,"v":1.02,"s":"HFS"},{"t":5.9,"v":0.96,"s":"HFS"},{"t":6.0,"v":1.1,"s":"HFS"},{"t":6.1,"v":1.03,"s":"HFS"},{"t":6.2,"v":1.17,"s":"HFS"},{"t":6.3,"v":1.1,"s":"HFS"},{"t":6.4,"v":1.26,"s":"HFS"},{"t":6.5,"v":1.18,"s":"HFS"},{"t":6.6,"v":1.35,"s":"HFS"},{"t":6.7,"v":1.28,"s":"HFS"},{"t":6.8,"v":1.48,"s":"HFS"},{"t":6.9,"v":1.45,"s":"HFS"},{"t":7.0,"v":1.7,"s":"HFS"},{"t":7.05,"v":1.78,"s":"HFS"},{"t":7.1,"v":1.62,"s":"HFS"},{"t":7.15,"v":1.52,"s":"HFS"},{"t":7.2,"v":1.5,"s":"HFS"},{"t":7.25,"v":1.38,"s":"HFS"},{"t":7.3,"v":1.4,"s":"HFS"},{"t":7.35,"v":1.3,"s":"HFS"},{"t":7.4,"v":1.3,"s":"HFS"},{"t":7.45,"v":1.22,"s":"HFS"},{"t":7.5,"v":1.2,"s":"HFS"},{"t":7.6,"v":1.12,"s":"HFS"},{"t":7.7,"v":1.03,"s":"HFS"},{"t":7.8,"v":0.95,"s":"HFS"},{"t":7.9,"v":0.87,"s":"HFS"},{"t":8.0,"v":0.77,"s":"HFS"},{"t":8.1,"v":0.62,"s":"HFS"},{"t":8.2,"v":0.5,"s":"HFS"},{"t":8.3,"v":0.42,"s":"HFS"},{"t":8.4,"v":0.36,"s":"HFS"},{"t":8.53,"v":0.32,"s":"HFS"}
    ],
    "smbi": [
      {"t":0.66,"s":"LFS"},{"t":0.97,"s":"LFS"},{"t":1.32,"s":"LFS"},{"t":1.65,"s":"LFS"},{"t":2.21,"s":"LFS"},{"t":2.67,"s":"LFS"},{"t":3.02,"s":"LFS"},{"t":3.43,"s":"LFS"},{"t":3.79,"s":"LFS"},{"t":4.35,"s":"LFS"},{"t":5.11,"s":"LFS"},{"t":5.46,"s":"LFS"},{"t":5.82,"s":"LFS"},{"t":6.2,"s":"LFS"},{"t":6.63,"s":"LFS"},{"t":6.91,"s":"LFS"},{"t":7.14,"s":"LFS"},{"t":7.34,"s":"LFS"},{"t":8.05,"s":"LFS"},
      {"t":0.84,"s":"HFS"},{"t":1.19,"s":"HFS"},{"t":1.52,"s":"HFS"},{"t":2.57,"s":"HFS"},{"t":2.87,"s":"HFS"},{"t":3.23,"s":"HFS"},{"t":4.04,"s":"HFS"},{"t":5.31,"s":"HFS"},{"t":5.67,"s":"HFS"},{"t":6.05,"s":"HFS"},{"t":6.48,"s":"HFS"},{"t":6.8,"s":"HFS"},
      {"t":0.46,"s":"UPPER DIV"},{"t":0.53,"s":"UPPER DIV"},{"t":0.77,"s":"UPPER DIV"},{"t":0.89,"s":"UPPER DIV"},{"t":1.04,"s":"UPPER DIV"},{"t":1.09,"s":"UPPER DIV"},{"t":1.24,"s":"UPPER DIV"},{"t":1.4,"s":"UPPER DIV"},{"t":1.48,"s":"UPPER DIV"},{"t":1.6,"s":"UPPER DIV"},{"t":1.72,"s":"UPPER DIV"},{"t":2.31,"s":"UPPER DIV"},{"t":2.51,"s":"UPPER DIV"},{"t":2.62,"s":"UPPER DIV"},{"t":2.72,"s":"UPPER DIV"},{"t":2.8,"s":"UPPER DIV"},{"t":2.92,"s":"UPPER DIV"},{"t":3.07,"s":"UPPER DIV"},{"t":3.12,"s":"UPPER DIV"},{"t":3.28,"s":"UPPER DIV"},{"t":3.53,"s":"UPPER DIV"},{"t":3.63,"s":"UPPER DIV"},{"t":3.86,"s":"UPPER DIV"},{"t":4.24,"s":"UPPER DIV"},{"t":4.65,"s":"UPPER DIV"},{"t":5.16,"s":"UPPER DIV"},{"t":5.24,"s":"UPPER DIV"},{"t":5.38,"s":"UPPER DIV"},{"t":5.51,"s":"UPPER DIV"},{"t":5.58,"s":"UPPER DIV"},{"t":5.75,"s":"UPPER DIV"},{"t":5.87,"s":"UPPER DIV"},{"t":5.97,"s":"UPPER DIV"},{"t":6.12,"s":"UPPER DIV"},{"t":6.28,"s":"UPPER DIV"},{"t":6.38,"s":"UPPER DIV"},{"t":6.58,"s":"UPPER DIV"},{"t":6.68,"s":"UPPER DIV"},{"t":6.73,"s":"UPPER DIV"},{"t":6.87,"s":"UPPER DIV"},{"t":6.99,"s":"UPPER DIV"}
    ],
    "notes": [
      {"p":1,"t":4.85,"v":1.3,"label":"Gas Puff (A.U.)"},
      {"p":2,"t":3.49,"v":7.8,"label":"RC (%)"},
      {"p":2,"t":4.25,"v":0.57,"label":"P-4.6GHz (MW)"},
      {"p":3,"t":5.8,"v":1.58,"label":"Dalpha"},
      {"p":3,"t":6.6,"v":0.58,"label":"SMBI"}
    ]
  },
  "bounds": "flush",
  "spacing": 14,
  "resolve": {"scale": {"color": "independent"}, "legend": {"color": "independent"}},
  "vconcat": [
    {
      "width": 385,
      "height": 183.5,
      "layer": [
        {
          "data": {"name": "top"},
          "mark": {"type": "line", "clip": true, "strokeWidth": 1.3, "interpolate": "monotone"},
          "encoding": {
            "x": {"field": "n", "type": "quantitative", "scale": {"domain": [0, 3.95], "range": [31, 385], "nice": false, "zero": false},
              "axis": {"values": [0, 0.5, 1, 1.5, 2, 2.5, 3, 3.5], "offset": -11.5, "grid": true, "gridColor": "#d6d6d6", "gridWidth": 0.8, "tickSize": 0, "labelPadding": 2, "labelFontSize": 7.5, "labelColor": "#6a6a6a", "labelFlush": false, "domainColor": "#777", "title": "Edge Density nₑ₀ [m⁻³]", "titleFontSize": 7, "titleColor": "#666", "titlePadding": 0}},
            "y": {"field": "rc", "type": "quantitative", "scale": {"domain": [0, 40], "range": [172, 0], "nice": false},
              "axis": {"values": [0, 5, 10, 15, 20, 25, 30, 35, 40], "offset": -31, "grid": true, "gridColor": "#d6d6d6", "gridWidth": 0.8, "tickSize": 0, "labelPadding": 2, "labelFontSize": 7.5, "labelColor": "#6a6a6a", "labelFlush": false, "domainColor": "#777", "title": "mean RC [%]", "titleFontSize": 7.5, "titleColor": "#666", "titlePadding": 1}},
            "color": {"field": "s", "type": "nominal",
              "scale": {"domain": ["EAST 2.45 GHz - ALOHA average RC [%]", "EAST 4.60 GHz - ALOHA average RC [%]"], "range": ["#2b2bd6", "#d92b2b"]},
              "legend": {"orient": "none", "legendX": 247, "legendY": 0, "title": null, "symbolType": "stroke", "symbolSize": 100, "symbolStrokeWidth": 1.3, "labelFontSize": 6.3, "labelColor": "#444", "labelOffset": 2, "padding": 2, "rowPadding": 0, "strokeColor": "#666", "fillColor": "white", "labelLimit": 200}}
          }
        },
        {"data": {"values": [{}]}, "mark": {"type": "rule", "color": "#555", "strokeWidth": 1}, "encoding": {"x": {"datum": 0}, "x2": {"datum": 3.95}, "y": {"datum": 40}}},
        {"data": {"values": [{"label": "x 10"}]}, "mark": {"type": "text", "align": "left", "baseline": "middle", "dy": 13.5, "fontSize": 7, "color": "#666"},
          "encoding": {"x": {"datum": 3.82}, "y": {"datum": 0}, "text": {"field": "label"}}}
      ]
    },
    {
      "width": 385,
      "height": 50,
      "view": {"fill": "#cc0012", "stroke": null},
      "data": {"values": [{"txt": "with the 4.6 GHz antenna"}]},
      "mark": {"type": "text", "fontSize": 31, "fontWeight": "bold", "color": "white", "align": "center", "baseline": "alphabetic", "dx": -25, "dy": 11, "clip": true},
      "encoding": {"text": {"field": "txt"}}
    },
    {
      "bounds": "flush",
      "spacing": 0,
      "resolve": {"scale": {"color": "independent"}, "legend": {"color": "independent"}},
      "hconcat": [
        {
          "width": 77.5,
          "height": 265,
          "layer": [
            {
              "data": {"values": [{"txt": "gh", "line": 2.03}, {"txt": "e", "line": 3.72}, {"txt": "he", "line": 7.7}, {"txt": "ased", "line": 8.74}]},
              "mark": {"type": "text", "align": "left", "baseline": "alphabetic", "fontSize": 16, "color": "#111"},
              "encoding": {
                "x": {"datum": 14.5, "scale": {"domain": [0, 77.5]}, "axis": null},
                "y": {"field": "line", "type": "quantitative", "scale": {"domain": [15.14, 0]}, "axis": null},
                "text": {"field": "txt"}
              }
            },
            {
              "data": {"values": [{"txt": "78-08.", "line": 11.2}]},
              "mark": {"type": "text", "align": "left", "baseline": "alphabetic", "fontSize": 12.5, "fontStyle": "italic", "color": "#111"},
              "encoding": {
                "x": {"datum": 2},
                "y": {"field": "line", "type": "quantitative"},
                "text": {"field": "txt"}
              }
            }
          ]
        },
        {
          "bounds": "flush",
          "spacing": 0,
          "resolve": {"scale": {"color": "independent"}, "legend": {"color": "independent"}},
          "vconcat": [
            {
              "width": 280,
              "height": 70,
              "title": {"text": "EAST # 64879, 64869, 64873", "fontSize": 10.5, "offset": -9.5, "color": "#222", "anchor": "middle", "frame": "group"},
              "view": {"stroke": "#9a9a9a"},
              "encoding": {
                "x": {"field": "t", "type": "quantitative", "scale": {"domain": [0, 8.53], "nice": false, "zero": false},
                  "axis": {"values": [1, 2, 3, 4, 5, 6, 7, 8], "labels": false, "domain": false, "tickSize": 3, "tickColor": "#999", "title": null}},
                "y": {"field": "v", "type": "quantitative", "scale": {"domain": [-0.113, 5.17], "nice": false, "zero": false},
                  "axis": {"values": [0, 2, 4], "domain": false, "tickSize": 2, "tickColor": "#999", "labelPadding": 1, "labelFontSize": 8.5, "labelColor": "#333", "title": null}}
              },
              "layer": [
                {
                  "data": {"name": "gas"},
                  "mark": {"type": "line", "strokeWidth": 1.2, "clip": true},
                  "encoding": {
                    "color": {"field": "s", "type": "nominal",
                      "scale": {"domain": ["LFS", "HFS", "UPPER DIV"], "range": ["#111111", "#2323e6", "#e8232a"]},
                      "legend": {"orient": "none", "legendX": 235.5, "legendY": -11, "title": null, "symbolType": "stroke", "symbolSize": 110, "symbolStrokeWidth": 1.5, "labelFontSize": 9, "labelColor": "#222", "labelOffset": 2, "padding": 3, "rowPadding": 0.5, "strokeColor": "#777", "fillColor": "white"}}
                  }
                },
                {
                  "data": {"name": "notes"},
                  "transform": [{"filter": "datum.p == 1"}],
                  "mark": {"type": "text", "fontSize": 9.5, "color": "#222"},
                  "encoding": {"text": {"field": "label"}}
                }
              ]
            },
            {
              "width": 280,
              "height": 100,
              "view": {"stroke": "#9a9a9a"},
              "encoding": {
                "x": {"field": "t", "type": "quantitative", "scale": {"domain": [0, 8.53], "nice": false, "zero": false},
                  "axis": {"values": [1, 2, 3, 4, 5, 6, 7, 8], "labels": false, "domain": false, "tickSize": 3, "tickColor": "#999", "title": null}},
                "y": {"field": "v", "type": "quantitative", "scale": {"domain": [-0.1, 9.9], "nice": false, "zero": false},
                  "axis": {"values": [0, 2, 4, 6, 8], "domain": false, "tickSize": 2, "tickColor": "#999", "labelPadding": 1, "labelFontSize": 8.5, "labelColor": "#333", "title": null}}
              },
              "layer": [
                {
                  "data": {"name": "rc"},
                  "transform": [{"filter": "datum.s == 'LFS'"}],
                  "mark": {"type": "line", "strokeWidth": 0.8, "clip": true},
                  "encoding": {"color": {"field": "s", "type": "nominal", "scale": {"domain": ["LFS", "HFS", "UPPER DIV"], "range": ["#111111", "#2323e6", "#e8232a"]}, "legend": null}}
                },
                {
                  "data": {"name": "rc"},
                  "transform": [{"filter": "datum.s == 'UPPER DIV'"}],
                  "mark": {"type": "line", "strokeWidth": 0.8, "clip": true},
                  "encoding": {"color": {"field": "s", "type": "nominal", "scale": {"domain": ["LFS", "HFS", "UPPER DIV"], "range": ["#111111", "#2323e6", "#e8232a"]}, "legend": null}}
                },
                {
                  "data": {"name": "rc"},
                  "transform": [{"filter": "datum.s == 'HFS'"}],
                  "mark": {"type": "line", "strokeWidth": 0.8, "clip": true},
                  "encoding": {"color": {"field": "s", "type": "nominal", "scale": {"domain": ["LFS", "HFS", "UPPER DIV"], "range": ["#111111", "#2323e6", "#e8232a"]}, "legend": null}}
                },
                {
                  "data": {"name": "dens"},
                  "mark": {"type": "line", "strokeWidth": 1.1, "color": "#111111", "clip": true}
                },
                {
                  "data": {"name": "pwr"},
                  "mark": {"type": "line", "strokeWidth": 1.2, "color": "#34348f", "clip": true}
                },
                {
                  "data": {"name": "notes"},
                  "transform": [{"filter": "datum.p == 2"}],
                  "mark": {"type": "text", "fontSize": 9.5, "color": "#222"},
                  "encoding": {"text": {"field": "label"}}
                }
              ]
            },
            {
              "width": 280,
              "height": 95,
              "view": {"stroke": "#6e6e6e", "strokeWidth": 1.5},
              "encoding": {
                "x": {"field": "t", "type": "quantitative", "scale": {"domain": [0, 8.53], "nice": false, "zero": false},
                  "axis": {"values": [1, 2, 3, 4, 5, 6, 7, 8], "domain": false, "tickSize": 0, "labelPadding": 2, "labelFontSize": 8.5, "labelColor": "#333", "title": "time (s)", "titleFontSize": 10, "titleColor": "#222", "titlePadding": 5, "titleX": 129.5}}
              },
              "layer": [
                {
                  "data": {"name": "smbi"},
                  "mark": {"type": "rule", "strokeWidth": 1, "opacity": 0.7},
                  "encoding": {
                    "y": {"datum": 0.5},
                    "y2": {"datum": 0},
                    "stroke": {"field": "s", "type": "nominal", "scale": {"domain": ["LFS", "HFS", "UPPER DIV"], "range": ["#3a2a35", "#8a5aa8", "#b8335e"]}, "legend": null}
                  }
                },
                {
                  "data": {"name": "dal"},
                  "transform": [{"filter": "datum.s == 'LFS'"}],
                  "mark": {"type": "line", "strokeWidth": 1.5, "clip": true},
                  "encoding": {
                    "y": {"field": "v", "type": "quantitative", "title": null, "scale": {"domain": [-0.043, 2.353], "nice": false, "zero": false},
                      "axis": {"values": [0, 0.5, 1, 1.5, 2], "domain": false, "tickSize": 2, "tickColor": "#999", "labelPadding": 1, "labelFontSize": 8.5, "labelColor": "#333", "title": null}},
                    "color": {"field": "s", "type": "nominal", "scale": {"domain": ["LFS", "HFS", "UPPER DIV"], "range": ["#111111", "#2323e6", "#e8232a"]}, "legend": null}
                  }
                },
                {
                  "data": {"name": "dal"},
                  "transform": [{"filter": "datum.s == 'UPPER DIV'"}],
                  "mark": {"type": "line", "strokeWidth": 1.5, "clip": true},
                  "encoding": {
                    "y": {"field": "v", "type": "quantitative", "title": null},
                    "color": {"field": "s", "type": "nominal", "scale": {"domain": ["LFS", "HFS", "UPPER DIV"], "range": ["#111111", "#2323e6", "#e8232a"]}, "legend": null}
                  }
                },
                {
                  "data": {"name": "dal"},
                  "transform": [{"filter": "datum.s == 'HFS'"}],
                  "mark": {"type": "line", "strokeWidth": 1.5, "clip": true},
                  "encoding": {
                    "y": {"field": "v", "type": "quantitative", "title": null},
                    "color": {"field": "s", "type": "nominal", "scale": {"domain": ["LFS", "HFS", "UPPER DIV"], "range": ["#111111", "#2323e6", "#e8232a"]}, "legend": null}
                  }
                },
                {
                  "data": {"name": "notes"},
                  "transform": [{"filter": "datum.p == 3"}],
                  "mark": {"type": "text", "fontSize": 9.5, "color": "#222"},
                  "encoding": {
                    "y": {"field": "v", "type": "quantitative", "title": null},
                    "text": {"field": "label"}
                  }
                }
              ]
            }
          ]
        }
      ]
    }
  ]
}
